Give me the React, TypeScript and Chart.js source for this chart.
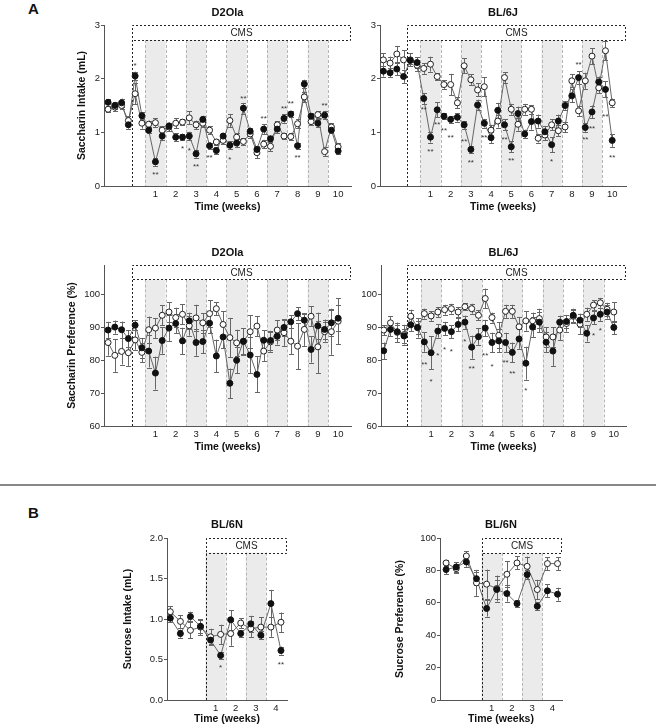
import React, { useEffect, useRef } from 'react';
import { Chart, registerables } from 'chart.js';

Chart.register(...registerables);

const FONT = '"Liberation Sans", Arial, Helvetica, sans-serif';

// ---------- Data (A: saccharin, 35 time points each) ----------
const D2_INTAKE_CMS = [1.56, 1.5, 1.55, 1.14, 2.05, 1.31, 1.04, 0.45, 0.93, 1.12, 0.91, 0.91, 0.93, 0.6, 1.24, 0.75, 0.66, 0.93, 0.76, 0.8, 1.45, 1.02, 0.68, 1.06, 0.88, 1.06, 1.26, 1.34, 0.75, 1.9, 1.3, 1.17, 1.32, 1.04, 0.65];
const D2_INTAKE_CMS_SEM = [0.06, 0.07, 0.08, 0.07, 0.08, 0.07, 0.06, 0.07, 0.07, 0.06, 0.07, 0.06, 0.08, 0.07, 0.07, 0.06, 0.06, 0.06, 0.07, 0.08, 0.1, 0.07, 0.07, 0.09, 0.06, 0.07, 0.08, 0.06, 0.06, 0.08, 0.06, 0.07, 0.08, 0.06, 0.05];
const D2_INTAKE_CTRL = [1.43, 1.47, 1.5, 1.22, 1.72, 1.17, 1.15, 1.18, 1.04, 1.1, 1.17, 1.19, 1.27, 1.14, 1.17, 1.04, 0.82, 0.85, 1.22, 0.91, 0.83, 0.97, 0.62, 0.78, 0.74, 1.14, 0.93, 0.92, 1.16, 1.66, 1.2, 1.33, 0.64, 1.1, 0.73];
const D2_INTAKE_CTRL_SEM = [0.06, 0.08, 0.07, 0.08, 0.2, 0.1, 0.07, 0.08, 0.07, 0.08, 0.09, 0.06, 0.12, 0.08, 0.07, 0.07, 0.06, 0.07, 0.12, 0.07, 0.06, 0.07, 0.1, 0.08, 0.09, 0.07, 0.06, 0.07, 0.08, 0.1, 0.07, 0.06, 0.09, 0.07, 0.07];
const D2_INTAKE_STARS: [number, number, string][] = [[4, 2.27, '*'], [7, 0.24, '**'], [11, 0.73, '*'], [12, 0.7, '*'], [13, 0.39, '**'], [15, 0.56, '**'], [18, 0.52, '*'], [20, 1.66, '**'], [23, 1.29, '**'], [26, 1.47, '**'], [27, 1.57, '**'], [28, 0.56, '**'], [32, 1.54, '**']];

const BL6J_INTAKE_CMS = [2.14, 2.11, 2.18, 2.04, 2.34, 2.3, 1.63, 0.91, 1.42, 1.3, 1.24, 1.28, 1.14, 0.68, 1.51, 1.17, 0.9, 1.41, 1.14, 0.73, 1.35, 0.97, 1.2, 1.21, 1.01, 0.77, 1.21, 1.5, 1.68, 2.02, 1.09, 1.38, 1.94, 1.8, 0.85];
const BL6J_INTAKE_CMS_SEM = [0.1, 0.08, 0.12, 0.12, 0.06, 0.1, 0.1, 0.1, 0.14, 0.06, 0.06, 0.08, 0.07, 0.06, 0.1, 0.08, 0.1, 0.14, 0.1, 0.1, 0.13, 0.08, 0.15, 0.12, 0.1, 0.14, 0.12, 0.08, 0.12, 0.12, 0.08, 0.12, 0.1, 0.15, 0.12];
const BL6J_INTAKE_CTRL = [2.35, 2.29, 2.46, 2.35, 2.35, 2.25, 2.19, 2.27, 2.04, 1.89, 1.89, 1.55, 2.24, 1.98, 1.79, 1.85, 1.04, 1.21, 2.02, 1.43, 1.15, 1.43, 1.43, 0.89, 0.95, 1.14, 1.03, 1.1, 1.96, 1.4, 1.96, 2.42, 1.83, 2.52, 1.55];
const BL6J_INTAKE_CTRL_SEM = [0.12, 0.12, 0.15, 0.18, 0.12, 0.1, 0.1, 0.14, 0.06, 0.08, 0.2, 0.1, 0.14, 0.1, 0.12, 0.18, 0.1, 0.12, 0.1, 0.1, 0.12, 0.1, 0.08, 0.08, 0.1, 0.1, 0.1, 0.1, 0.12, 0.1, 0.15, 0.15, 0.1, 0.18, 0.08];
const BL6J_INTAKE_STARS: [number, number, string][] = [[6, 1.45, '**'], [7, 0.67, '**'], [8, 1.17, '**'], [9, 1.06, '**'], [10, 0.93, '**'], [12, 0.87, '**'], [13, 0.47, '**'], [15, 0.93, '**'], [18, 0.9, '**'], [19, 0.5, '**'], [25, 0.48, '*'], [29, 2.3, '**'], [30, 0.9, '**'], [31, 1.11, '**'], [33, 1.32, '**'], [34, 0.57, '**']];

const D2_PREF_CMS = [89.2, 90.1, 89.3, 86.6, 90.7, 83.8, 82.8, 76.1, 86.0, 89.8, 91.2, 85.9, 92.0, 85.4, 85.7, 91.3, 81.3, 87.1, 73.0, 80.0, 85.8, 81.6, 75.7, 86.1, 86.0, 87.3, 90.0, 91.7, 94.2, 92.2, 83.3, 90.5, 89.4, 91.4, 92.8];
const D2_PREF_CMS_SEM = [2.5, 2, 2.5, 2.5, 1.5, 3, 5, 5, 4, 4, 3, 4, 2.5, 4, 3.5, 3, 5, 3.5, 4.5, 4, 4, 5.5, 5.5, 3, 3, 2.5, 2.5, 2, 2, 2, 4, 4, 3, 4, 4];
const D2_PREF_CTRL = [85.4, 81.5, 82.7, 82.3, 86.2, 82.4, 89.3, 89.8, 93.7, 94.7, 93.0, 94.0, 90.5, 92.9, 91.4, 94.2, 95.7, 90.9, 86.9, 85.3, 85.7, 88.7, 90.4, 82.8, 85.6, 89.2, 88.4, 85.8, 84.3, 89.4, 93.4, 84.1, 88.7, 88.7, 91.9];
const D2_PREF_CTRL_SEM = [4, 5, 4, 4, 3, 3, 4, 3, 3, 3, 3, 3, 3, 4, 3, 4, 2, 4, 6, 4, 4, 5, 3, 3, 3, 3, 4, 4, 7, 5, 3, 8, 3, 7, 7];
const D2_PREF_STARS: [number, number, string][] = [];

const BL6J_PREF_CMS = [82.9, 89.4, 88.7, 87.4, 90.8, 90.0, 85.6, 82.3, 88.9, 89.7, 88.7, 90.9, 91.6, 84.0, 87.2, 89.8, 85.4, 85.9, 85.4, 82.4, 86.5, 79.1, 90.1, 91.6, 85.5, 82.8, 91.6, 91.8, 93.7, 92.2, 88.2, 92.9, 94.0, 94.7, 90.0];
const BL6J_PREF_CMS_SEM = [2.5, 2, 2, 2, 2, 2, 3, 5, 2, 2, 2, 2, 2, 3.5, 2.5, 2.5, 3, 3.5, 3, 3, 3, 5, 3, 3, 3, 4.5, 2, 2, 2, 2, 2.5, 2, 2, 2, 2];
const BL6J_PREF_CTRL = [89.2, 91.4, 88.5, 87.8, 93.4, 89.9, 94.2, 93.5, 94.7, 95.4, 95.7, 94.7, 96.3, 95.7, 93.7, 98.8, 93.0, 87.6, 94.9, 94.9, 90.2, 92.0, 92.0, 92.7, 87.1, 87.1, 89.2, 91.2, 93.4, 91.0, 94.0, 96.8, 97.5, 95.5, 94.7];
const BL6J_PREF_CTRL_SEM = [1.5, 2, 3, 3, 2, 3, 1.5, 1.5, 1.5, 1.5, 1.5, 1.5, 1, 1.5, 1.5, 3, 1.5, 4, 2, 2, 3, 3, 2.5, 3, 3, 3, 3, 2.5, 2, 3, 2, 1.5, 1.5, 2, 3];
const BL6J_PREF_STARS: [number, number, string][] = [[6, 79.2, '**'], [7, 74.0, '*'], [8, 82.1, '*'], [9, 83.8, '*'], [10, 83.3, '*'], [12, 86.3, '*'], [13, 78.0, '**'], [15, 82.1, '**'], [16, 78.5, '*'], [18, 79.8, '**'], [19, 76.5, '**'], [21, 71.4, '*'], [31, 88.0, '*'], [32, 89.7, '*']];

// ---------- Data (B: sucrose, 12 time points each) ----------
const BL6N_INTAKE_CMS = [1.01, 0.82, 1.03, 0.91, 0.74, 0.55, 0.99, 0.82, 0.94, 0.8, 1.19, 0.61];
const BL6N_INTAKE_CMS_SEM = [0.05, 0.05, 0.06, 0.08, 0.05, 0.04, 0.12, 0.04, 0.1, 0.05, 0.17, 0.05];
const BL6N_INTAKE_CTRL = [1.09, 0.97, 0.86, 0.9, 0.78, 0.81, 0.82, 0.95, 0.88, 0.9, 0.9, 0.96];
const BL6N_INTAKE_CTRL_SEM = [0.07, 0.08, 0.1, 0.1, 0.1, 0.12, 0.15, 0.06, 0.1, 0.12, 0.12, 0.12];
const BL6N_INTAKE_STARS: [number, number, string][] = [[5, 0.42, '*'], [11, 0.46, '**']];

const BL6N_PREF_CMS = [80.5, 82.1, 85.2, 74.9, 56.5, 68.2, 65.7, 59.5, 77.4, 57.9, 67.4, 65.3];
const BL6N_PREF_CMS_SEM = [3, 3, 3, 4, 5, 6, 5, 2, 3, 2.5, 4, 4];
const BL6N_PREF_CTRL = [84.6, 81.1, 88.9, 72.3, 71.5, 68.8, 77.6, 84.6, 82.5, 68.2, 84.2, 84.2];
const BL6N_PREF_CTRL_SEM = [2, 3, 3, 8, 9, 8, 8, 4, 6, 6, 4, 4];
const BL6N_PREF_STARS: [number, number, string][] = [];

// ---------- Tick labels ----------
const WEEK_LABELS_A = ['1', '2', '3', '4', '5', '6', '7', '8', '9', '10'];
const WEEK_LABELS_B = ['1', '2', '3', '4'];
const INTAKE_A_TICKS = [0, 1, 2, 3];
const INTAKE_A_LABELS = ['0', '1', '2', '3'];
const PREF_A_TICKS = [60, 70, 80, 90, 100];
const PREF_A_LABELS = ['60', '70', '80', '90', '100'];
const INTAKE_B_TICKS = [0, 0.5, 1, 1.5, 2];
const INTAKE_B_LABELS = ['0.0', '0.5', '1.0', '1.5', '2.0'];
const PREF_B_TICKS = [0, 20, 40, 60, 80, 100];
const PREF_B_LABELS = ['0', '20', '40', '60', '80', '100'];

// Week layout (time-point index space)
const A_WEEK1_START = 5.5; // week 1 begins after two CMS points
const A_PER_WEEK = 3;
const B_WEEK1_START = 3.5;
const B_PER_WEEK = 2;
const CMS_START = 3.5;

const weekCenters = (labels: string[], start: number, per: number) =>
  labels.map((_, k) => start + per * k + per / 2);
const shadedWeeks = (labels: string[], start: number, per: number) =>
  labels
    .map((_, k) => [start + per * k, start + per * (k + 1)] as [number, number])
    .filter((_, k) => k % 2 === 0);

interface PanelSpec {
  rect: [number, number, number, number];
  area: [number, number, number, number];
  title: string;
  titleY: number;
  yTitle?: string;
  yTitleX?: number;
  xTitleY: number;
  xRange: [number, number];
  yRange: [number, number];
  yTicks: number[];
  yTickLabels: string[];
  weekLabels: string[];
  weekStart: number;
  perWeek: number;
  cmsBottom: number;
  cms: number[];
  cmsSem: number[];
  ctrl: number[];
  ctrlSem: number[];
  stars: [number, number, string][];
  radius: number;
}

const TITLE_SIZE = 10.5;

function Panel({ spec }: { spec: PanelSpec }) {
  const ref = useRef<HTMLCanvasElement>(null);
  const [rx, ry, rw, rh] = spec.rect;
  useEffect(() => {
    const [al, at, ar, ab] = spec.area;
    const yW = al - rx;
    const padTop = at - ry;
    const padRight = rx + rw - ar;
    const xH = ry + rh - ab;
    const half = (TITLE_SIZE * 1.2) / 2;
    const weekPos = weekCenters(spec.weekLabels, spec.weekStart, spec.perWeek);
    const shaded = shadedWeeks(spec.weekLabels, spec.weekStart, spec.perWeek);
    const pts = (arr: number[]) => arr.map((v, i) => ({ x: i, y: v }));

    const decor = {
      id: 'decor',
      beforeDraw(chart: any) {
        const { ctx, chartArea, scales } = chart;
        const xs = scales.x;
        const ys = scales.y;
        const yb = ys.getPixelForValue(spec.cmsBottom);
        ctx.save();
        // shaded weeks
        shaded.forEach(([a, b]) => {
          const x0 = xs.getPixelForValue(a);
          const x1 = xs.getPixelForValue(b);
          ctx.fillStyle = '#ebebeb';
          ctx.fillRect(x0, yb, x1 - x0, chartArea.bottom - yb);
          ctx.strokeStyle = '#b4b4b4';
          ctx.lineWidth = 1;
          ctx.setLineDash([3, 2]);
          [x0, x1].forEach((xx) => {
            ctx.beginPath();
            ctx.moveTo(Math.round(xx) + 0.5, yb);
            ctx.lineTo(Math.round(xx) + 0.5, chartArea.bottom);
            ctx.stroke();
          });
        });
        // CMS box
        const cx = Math.round(xs.getPixelForValue(CMS_START)) + 0.5;
        const right = Math.round(chartArea.right) - 0.5;
        const top = Math.round(chartArea.top) + 0.5;
        const bot = Math.round(yb) + 0.5;
        ctx.strokeStyle = '#222';
        ctx.setLineDash([2, 2]);
        ctx.beginPath();
        ctx.moveTo(cx, chartArea.bottom);
        ctx.lineTo(cx, top);
        ctx.lineTo(right, top);
        ctx.lineTo(right, bot);
        ctx.lineTo(cx, bot);
        ctx.stroke();
        ctx.setLineDash([]);
        ctx.fillStyle = '#222';
        ctx.font = `10px ${FONT}`;
        ctx.textAlign = 'center';
        ctx.textBaseline = 'middle';
        ctx.fillText('CMS', (cx + right) / 2, (top + bot) / 2 + 0.5);
        ctx.restore();
      },
      beforeDatasetsDraw(chart: any) {
        const { ctx, scales } = chart;
        const xs = scales.x;
        const ys = scales.y;
        ctx.save();
        ctx.strokeStyle = '#666';
        ctx.lineWidth = 1;
        const bars = (vals: number[], sems: number[]) => {
          vals.forEach((v, i) => {
            const x = Math.round(xs.getPixelForValue(i)) + 0.5;
            const y0 = ys.getPixelForValue(v - sems[i]);
            const y1 = ys.getPixelForValue(v + sems[i]);
            ctx.beginPath();
            ctx.moveTo(x, y0);
            ctx.lineTo(x, y1);
            ctx.moveTo(x - 2.5, Math.round(y0) + 0.5);
            ctx.lineTo(x + 2.5, Math.round(y0) + 0.5);
            ctx.moveTo(x - 2.5, Math.round(y1) + 0.5);
            ctx.lineTo(x + 2.5, Math.round(y1) + 0.5);
            ctx.stroke();
          });
        };
        bars(spec.ctrl, spec.ctrlSem);
        bars(spec.cms, spec.cmsSem);
        ctx.restore();
      },
      afterDraw(chart: any) {
        const { ctx, scales, chartArea } = chart;
        const xs = scales.x;
        const ys = scales.y;
        ctx.save();
        ctx.fillStyle = '#333';
        ctx.font = `8px ${FONT}`;
        ctx.textAlign = 'center';
        ctx.textBaseline = 'middle';
        spec.stars.forEach(([i, v, t]) => {
          ctx.fillText(t, xs.getPixelForValue(i), ys.getPixelForValue(v) + 2);
        });
        ctx.fillStyle = '#111';
        ctx.font = `bold 11px ${FONT}`;
        ctx.fillText(spec.title, (chartArea.left + chartArea.right) / 2, spec.titleY - ry);
        ctx.restore();
      },
    };

    const chart = new Chart(ref.current as HTMLCanvasElement, {
      type: 'line',
      data: {
        datasets: [
          { data: pts(spec.cms), showLine: false, pointRadius: spec.radius, pointBackgroundColor: '#111', pointBorderColor: '#111', pointBorderWidth: 1 },
          { data: pts(spec.ctrl), showLine: false, pointRadius: spec.radius, pointBackgroundColor: '#fff', pointBorderColor: '#222', pointBorderWidth: 1 },
          { data: pts(spec.cms), pointRadius: 0, borderColor: '#666', borderWidth: 1, tension: 0 },
          { data: pts(spec.ctrl), pointRadius: 0, borderColor: '#666', borderWidth: 1, tension: 0 },
        ],
      } as any,
      options: {
        animation: false,
        responsive: false,
        devicePixelRatio: 1,
        events: [],
        layout: { padding: { top: padTop, right: padRight, left: 0, bottom: 0 } },
        plugins: { legend: { display: false }, tooltip: { enabled: false }, title: { display: false } },
        scales: {
          x: {
            type: 'linear',
            min: spec.xRange[0],
            max: spec.xRange[1],
            afterBuildTicks: (s: any) => {
              s.ticks = weekPos.map((v) => ({ value: v }));
            },
            afterFit: (s: any) => {
              s.height = xH;
            },
            ticks: {
              callback: (_v: any, i: number) => spec.weekLabels[i],
              font: { family: FONT, size: 9.5 },
              color: '#222',
              padding: 3,
              maxRotation: 0,
              autoSkip: false,
            },
            grid: { display: false, drawTicks: false, tickLength: 0 },
            border: { display: true, color: '#555', width: 1 },
            title: {
              display: true,
              text: 'Time (weeks)',
              color: '#111',
              font: { family: FONT, size: TITLE_SIZE, weight: 'bold' },
              padding: { top: 0, bottom: rh - (spec.xTitleY - ry) - half },
            },
          },
          y: {
            type: 'linear',
            min: spec.yRange[0],
            max: spec.yRange[1],
            afterBuildTicks: (s: any) => {
              s.ticks = spec.yTicks.map((v) => ({ value: v }));
            },
            afterFit: (s: any) => {
              s.width = yW;
            },
            ticks: {
              callback: (_v: any, i: number) => spec.yTickLabels[i],
              font: { family: FONT, size: 9.5 },
              color: '#222',
              padding: 1,
            },
            grid: { display: true, drawOnChartArea: false, drawTicks: true, tickLength: 3, color: '#555' },
            border: { display: true, color: '#555', width: 1 },
            title: {
              display: !!spec.yTitle,
              text: spec.yTitle || '',
              color: '#111',
              font: { family: FONT, size: TITLE_SIZE, weight: 'bold' },
              padding: { top: (spec.yTitleX || 0) - rx - half, bottom: 0 },
            },
          },
        },
      } as any,
      plugins: [decor],
    });
    return () => chart.destroy();
  }, []);
  return (
    <canvas
      ref={ref}
      width={rw}
      height={rh}
      style={{ position: 'absolute', left: rx, top: ry, width: rw, height: rh }}
    />
  );
}

const PANELS: PanelSpec[] = [
  {
    rect: [50, 0, 310, 218], area: [104, 25, 351, 186], title: 'D2Ola', titleY: 13,
    yTitle: 'Saccharin Intake (mL)', yTitleX: 82, xTitleY: 207,
    xRange: [-0.6, 35.9], yRange: [0, 3], yTicks: INTAKE_A_TICKS, yTickLabels: INTAKE_A_LABELS,
    weekLabels: WEEK_LABELS_A, weekStart: A_WEEK1_START, perWeek: A_PER_WEEK, cmsBottom: 2.72,
    cms: D2_INTAKE_CMS, cmsSem: D2_INTAKE_CMS_SEM, ctrl: D2_INTAKE_CTRL, ctrlSem: D2_INTAKE_CTRL_SEM,
    stars: D2_INTAKE_STARS, radius: 3,
  },
  {
    rect: [340, 0, 300, 218], area: [380, 25, 626, 186], title: 'BL/6J', titleY: 13,
    xTitleY: 207,
    xRange: [-0.5, 36.05], yRange: [0, 3], yTicks: INTAKE_A_TICKS, yTickLabels: INTAKE_A_LABELS,
    weekLabels: WEEK_LABELS_A, weekStart: A_WEEK1_START, perWeek: A_PER_WEEK, cmsBottom: 2.72,
    cms: BL6J_INTAKE_CMS, cmsSem: BL6J_INTAKE_CMS_SEM, ctrl: BL6J_INTAKE_CTRL, ctrlSem: BL6J_INTAKE_CTRL_SEM,
    stars: BL6J_INTAKE_STARS, radius: 3,
  },
  {
    rect: [40, 240, 320, 218], area: [104, 265, 351, 426], title: 'D2Ola', titleY: 253,
    yTitle: 'Saccharin Preference (%)', yTitleX: 72, xTitleY: 447,
    xRange: [-0.6, 35.9], yRange: [60, 109], yTicks: PREF_A_TICKS, yTickLabels: PREF_A_LABELS,
    weekLabels: WEEK_LABELS_A, weekStart: A_WEEK1_START, perWeek: A_PER_WEEK, cmsBottom: 104.6,
    cms: D2_PREF_CMS, cmsSem: D2_PREF_CMS_SEM, ctrl: D2_PREF_CTRL, ctrlSem: D2_PREF_CTRL_SEM,
    stars: D2_PREF_STARS, radius: 3,
  },
  {
    rect: [340, 240, 300, 218], area: [381, 265, 626, 426], title: 'BL/6J', titleY: 253,
    xTitleY: 447,
    xRange: [-0.4, 35.8], yRange: [60, 109], yTicks: PREF_A_TICKS, yTickLabels: PREF_A_LABELS,
    weekLabels: WEEK_LABELS_A, weekStart: A_WEEK1_START, perWeek: A_PER_WEEK, cmsBottom: 104.6,
    cms: BL6J_PREF_CMS, cmsSem: BL6J_PREF_CMS_SEM, ctrl: BL6J_PREF_CTRL, ctrlSem: BL6J_PREF_CTRL_SEM,
    stars: BL6J_PREF_STARS, radius: 3,
  },
  {
    rect: [100, 510, 200, 218], area: [167, 538, 287, 700], title: 'BL/6N', titleY: 525,
    yTitle: 'Sucrose Intake (mL)', yTitleX: 128, xTitleY: 719,
    xRange: [-0.33, 11.6], yRange: [0, 2], yTicks: INTAKE_B_TICKS, yTickLabels: INTAKE_B_LABELS,
    weekLabels: WEEK_LABELS_B, weekStart: B_WEEK1_START, perWeek: B_PER_WEEK, cmsBottom: 1.82,
    cms: BL6N_INTAKE_CMS, cmsSem: BL6N_INTAKE_CMS_SEM, ctrl: BL6N_INTAKE_CTRL, ctrlSem: BL6N_INTAKE_CTRL_SEM,
    stars: BL6N_INTAKE_STARS, radius: 3,
  },
  {
    rect: [370, 510, 210, 218], area: [440, 538, 562, 700], title: 'BL/6N', titleY: 525,
    yTitle: 'Sucrose Preference (%)', yTitleX: 400, xTitleY: 719,
    xRange: [-0.6, 11.44], yRange: [0, 100], yTicks: PREF_B_TICKS, yTickLabels: PREF_B_LABELS,
    weekLabels: WEEK_LABELS_B, weekStart: B_WEEK1_START, perWeek: B_PER_WEEK, cmsBottom: 90.8,
    cms: BL6N_PREF_CMS, cmsSem: BL6N_PREF_CMS_SEM, ctrl: BL6N_PREF_CTRL, ctrlSem: BL6N_PREF_CTRL_SEM,
    stars: BL6N_PREF_STARS, radius: 3,
  },
];

export default function App() {
  return (
    <div style={{ position: 'absolute', left: 0, top: 0, width: 656, height: 728, background: '#fff', overflow: 'hidden' }}>
      <div style={{ position: 'absolute', left: 28, top: 0, font: `bold 15px ${FONT}`, color: '#111' }}>A</div>
      <div style={{ position: 'absolute', left: 0, top: 484, width: 656, height: 2, background: '#888' }} />
      <div style={{ position: 'absolute', left: 28, top: 504, font: `bold 15px ${FONT}`, color: '#111' }}>B</div>
      {PANELS.map((p, i) => (
        <Panel key={i} spec={p} />
      ))}
    </div>
  );
}
